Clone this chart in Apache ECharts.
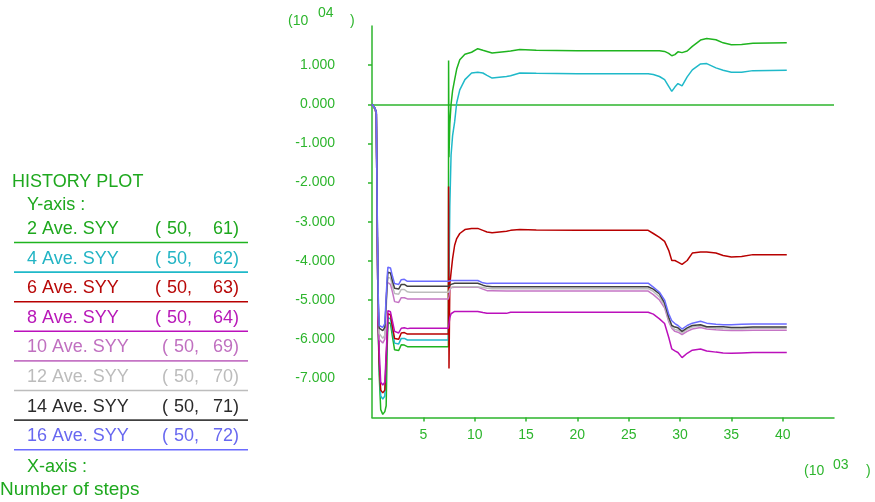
<!DOCTYPE html>
<html>
<head>
<meta charset="utf-8">
<script src="https://cdn.jsdelivr.net/npm/echarts@6/dist/echarts.min.js"></script>
<style>
  html, body { margin: 0; padding: 0; background: #ffffff; }
  #chart { width: 875px; height: 502px; }
</style>
</head>
<body>
<div id="chart"></div>
<script>
// Number of steps (x 10^3)
const steps = [
  0, 0.15, 0.3, 0.42, 0.5, 0.6, 0.7, 0.85, 1.05, 1.25,
  1.38, 1.48, 1.55, 1.8, 2.0, 2.2, 2.6, 2.85, 3.15, 3.45,
  3.7, 7.44, 7.46, 7.5, 7.58, 7.7, 7.85, 8.05, 8.25, 8.55,
  9.05, 9.7, 10.3, 10.8, 11.2, 11.7, 13.1, 13.5, 14.4, 16.0,
  20.0, 26.9, 27.4, 28.0, 28.5, 28.9, 29.2, 29.5, 29.8, 30.2,
  30.7, 31.2, 32.0, 32.6, 33.5, 34.2, 35.0, 36.0, 37.1, 40.4
];

// Averaged SYY histories (x 10^4)
const syy2 = [
  0, -0.02, -0.12, -0.25, -3.0, -5.6, -6.9, -7.8, -7.92, -7.85,
  -7.7, -6.2, -5.57, -5.6, -5.95, -6.27, -6.29, -6.14, -6.15, -6.19,
  -6.19, -6.19, 1.12, -1.35, -0.5, 0.0, 0.35, 0.63, 0.9, 1.14,
  1.28, 1.33, 1.42, 1.38, 1.35, 1.31, 1.35, 1.36, 1.40, 1.38,
  1.37, 1.37, 1.37, 1.37, 1.35, 1.30, 1.24, 1.27, 1.34, 1.32,
  1.36, 1.48, 1.64, 1.68, 1.65, 1.57, 1.52, 1.53, 1.56, 1.57
];
const syy4 = [
  0, -0.02, -0.12, -0.25, -3.0, -5.6, -6.7, -7.45, -7.53, -7.45,
  -7.48, -6.0, -5.45, -5.48, -5.8, -6.1, -6.12, -5.98, -5.98, -6.02,
  -6.02, -6.02, -6.02, -4.5, -2.6, -1.3, -0.8, -0.45, 0.04, 0.37,
  0.63, 0.80, 0.82, 0.80, 0.74, 0.67, 0.71, 0.73, 0.80, 0.79,
  0.78, 0.78, 0.76, 0.71, 0.63, 0.46, 0.33, 0.44, 0.53, 0.47,
  0.70, 0.88, 1.03, 1.04, 0.93, 0.87, 0.82, 0.82, 0.86, 0.87
];
const syy6 = [
  0, -0.02, -0.12, -0.25, -3.0, -5.6, -6.6, -7.3, -7.37, -7.3,
  -7.32, -5.9, -5.35, -5.38, -5.7, -5.98, -6.0, -5.84, -5.83, -5.87,
  -5.87, -5.87, -2.1, -6.75, -4.6, -4.3, -3.94, -3.6, -3.43, -3.3,
  -3.2, -3.17, -3.17, -3.22, -3.26, -3.28, -3.24, -3.22, -3.2, -3.21,
  -3.22, -3.22, -3.3, -3.4, -3.5, -3.73, -3.99, -3.99, -4.03, -4.09,
  -3.99, -3.8, -3.77, -3.77, -3.8, -3.86, -3.9, -3.89, -3.84, -3.84
];
const syy8 = [
  0, -0.02, -0.12, -0.25, -3.0, -5.6, -6.3, -7.1, -7.17, -7.1,
  -7.12, -5.8, -5.27, -5.3, -5.55, -5.8, -5.84, -5.72, -5.71, -5.73,
  -5.72, -5.72, -5.72, -5.7, -5.45, -5.35, -5.3, -5.29, -5.29, -5.29,
  -5.29, -5.29, -5.29, -5.32, -5.34, -5.34, -5.34, -5.31, -5.31, -5.31,
  -5.31, -5.31, -5.36, -5.48, -5.6, -5.95, -6.25, -6.3, -6.34, -6.47,
  -6.36, -6.28, -6.25, -6.3, -6.33, -6.35, -6.36, -6.35, -6.34, -6.34
];
const syy10 = [
  0, -0.02, -0.12, -0.22, -2.8, -5.2, -6.0, -6.0, -6.1, -6.0,
  -5.0, -4.54, -4.55, -4.6, -4.8, -5.04, -5.06, -4.94, -4.94, -4.97,
  -4.97, -4.97, -4.97, -4.9, -4.75, -4.68, -4.67, -4.67, -4.67, -4.67,
  -4.67, -4.67, -4.67, -4.72, -4.76, -4.76, -4.77, -4.77, -4.77, -4.77,
  -4.77, -4.77, -4.86, -5.0, -5.2, -5.55, -5.72, -5.8, -5.82, -5.88,
  -5.8, -5.74, -5.7, -5.74, -5.76, -5.77, -5.78, -5.78, -5.77, -5.77
];
const syy12 = [
  0, -0.02, -0.12, -0.22, -2.7, -5.1, -5.85, -5.85, -5.98, -5.9,
  -5.88, -4.7, -4.42, -4.44, -4.65, -4.83, -4.85, -4.73, -4.73, -4.79,
  -4.8, -4.8, -4.8, -4.78, -4.72, -4.68, -4.66, -4.66, -4.66, -4.66,
  -4.66, -4.66, -4.66, -4.68, -4.7, -4.71, -4.71, -4.71, -4.71, -4.71,
  -4.71, -4.71, -4.78, -4.92, -5.15, -5.5, -5.69, -5.75, -5.77, -5.84,
  -5.75, -5.69, -5.66, -5.7, -5.72, -5.73, -5.74, -5.74, -5.72, -5.72
];
const syy14 = [
  0, -0.02, -0.1, -0.2, -2.6, -5.0, -5.72, -5.7, -5.78, -5.7,
  -5.74, -4.55, -4.29, -4.31, -4.52, -4.7, -4.72, -4.6, -4.6, -4.65,
  -4.65, -4.65, -4.65, -4.66, -4.64, -4.6, -4.58, -4.57, -4.57, -4.57,
  -4.57, -4.57, -4.57, -4.62, -4.65, -4.66, -4.66, -4.66, -4.66, -4.66,
  -4.66, -4.66, -4.72, -4.84, -5.08, -5.44, -5.65, -5.69, -5.71, -5.8,
  -5.71, -5.65, -5.63, -5.68, -5.68, -5.68, -5.7, -5.7, -5.69, -5.69
];
const syy16 = [
  0, -0.02, -0.1, -0.2, -2.5, -4.8, -5.65, -5.62, -5.7, -5.6,
  -5.65, -4.4, -4.16, -4.18, -4.4, -4.58, -4.6, -4.48, -4.47, -4.52,
  -4.52, -4.52, -4.52, -4.56, -4.54, -4.5, -4.5, -4.5, -4.5, -4.5,
  -4.5, -4.5, -4.5, -4.56, -4.58, -4.57, -4.57, -4.57, -4.57, -4.57,
  -4.57, -4.57, -4.67, -4.8, -5.0, -5.35, -5.53, -5.6, -5.65, -5.74,
  -5.65, -5.59, -5.54, -5.59, -5.62, -5.63, -5.63, -5.62, -5.61, -5.61
];

// Legend rows: name, node / element ids, line colour, text colour
const seriesNames = ['2 Ave. SYY', '4 Ave. SYY', '6 Ave. SYY', '8 Ave. SYY',
                     '10 Ave. SYY', '12 Ave. SYY', '14 Ave. SYY', '16 Ave. SYY'];
const nodeIds = ['50', '50', '50', '50', '50', '50', '50', '50'];
const elemIds = ['61', '62', '63', '64', '69', '70', '71', '72'];
const seriesValues = [syy2, syy4, syy6, syy8, syy10, syy12, syy14, syy16];
const lineColors = ['#1fb41f', '#1fb9c9', '#b80000', '#bb10bb',
                    '#c575c5', '#bdbdbd', '#404040', '#6b6bff'];
const textColors = ['#1ea81e', '#22b4c4', '#b80808', '#b818b8',
                    '#c070c0', '#bcbcbc', '#2a2a2a', '#6868f0'];

// Axis ticks
const xTickValues = [5, 10, 15, 20, 25, 30, 35, 40];
const yTickValues = [-7, -6, -5, -4, -3, -2, -1, 0, 1];

const GREEN = '#2db52d';
const FONT = 'Liberation Sans, Arial, sans-serif';

const chart = echarts.init(document.getElementById('chart'), null, { renderer: 'canvas' });

const series = seriesValues.map((vals, i) => ({
  name: seriesNames[i],
  type: 'line',
  data: steps.map((s, k) => [s, vals[k]]),
  showSymbol: false,
  symbol: 'none',
  smooth: false,
  lineStyle: { color: lineColors[i], width: 1.5 },
  z: 3 + i,
  markLine: i === 0 ? {
    silent: true,
    symbol: 'none',
    label: { show: false },
    lineStyle: { color: GREEN, width: 1.5, type: 'solid' },
    data: [{ yAxis: 0 }],
    z: 2
  } : undefined
}));

// Left-hand legend block
const graphic = [];
function addText(x, y, text, color, size, align) {
  graphic.push({
    type: 'text', x: x, y: y, silent: true,
    style: { text: text, fill: color, font: size + 'px ' + FONT,
             textAlign: align || 'left', textVerticalAlign: 'middle' }
  });
}
addText(12, 182, 'HISTORY PLOT', '#1ea81e', 18);
addText(27, 205, 'Y-axis :', '#1ea81e', 18);
const rowY0 = 229, rowStep = 29.6;
seriesNames.forEach((name, i) => {
  const y = rowY0 + rowStep * i;
  const px = i < 4 ? 155 : 162;
  addText(27, y, name, textColors[i], 18);
  addText(px, y, '(', textColors[i], 18);
  addText(px + 12, y, nodeIds[i] + ',', textColors[i], 18);
  addText(239, y, elemIds[i] + ')', textColors[i], 18, 'right');
  graphic.push({
    type: 'line', silent: true,
    shape: { x1: 14, y1: y + 13.5, x2: 248, y2: y + 13.5 },
    style: { stroke: lineColors[i], lineWidth: 1.6 }
  });
});
addText(27, 467, 'X-axis :', '#1ea81e', 18);
addText(0, 490, 'Number of steps', '#1ea81e', 19);

// Axis exponents
addText(288, 21, '(10', GREEN, 14);
addText(318, 13, '04', GREEN, 14);
addText(350, 21, ')', GREEN, 14);
addText(804, 471, '(10', GREEN, 14);
addText(833, 465, '03', GREEN, 14);
addText(866, 471, ')', GREEN, 14);

chart.setOption({
  animation: false,
  backgroundColor: '#ffffff',
  grid: { left: 372, top: 26, width: 462, height: 391.5, containLabel: false },
  xAxis: {
    type: 'value', min: 0, max: 45,
    axisLine: { show: true, onZero: false, lineStyle: { color: GREEN, width: 1.5 } },
    axisTick: { show: true, length: 4, customValues: xTickValues, lineStyle: { color: GREEN, width: 1.5 } },
    axisLabel: { customValues: xTickValues, color: GREEN, fontSize: 14, fontFamily: FONT, margin: 11 },
    splitLine: { show: false }
  },
  yAxis: {
    type: 'value', min: -8, max: 2,
    axisLine: { show: true, onZero: false, lineStyle: { color: GREEN, width: 1.5 } },
    axisTick: { show: true, length: 4, customValues: yTickValues, lineStyle: { color: GREEN, width: 1.5 } },
    axisLabel: { customValues: yTickValues, color: GREEN, fontSize: 14, fontFamily: FONT, margin: 37,
                 formatter: v => v.toFixed(3) },
    splitLine: { show: false }
  },
  graphic: graphic,
  series: series
});
</script>
</body>
</html>
